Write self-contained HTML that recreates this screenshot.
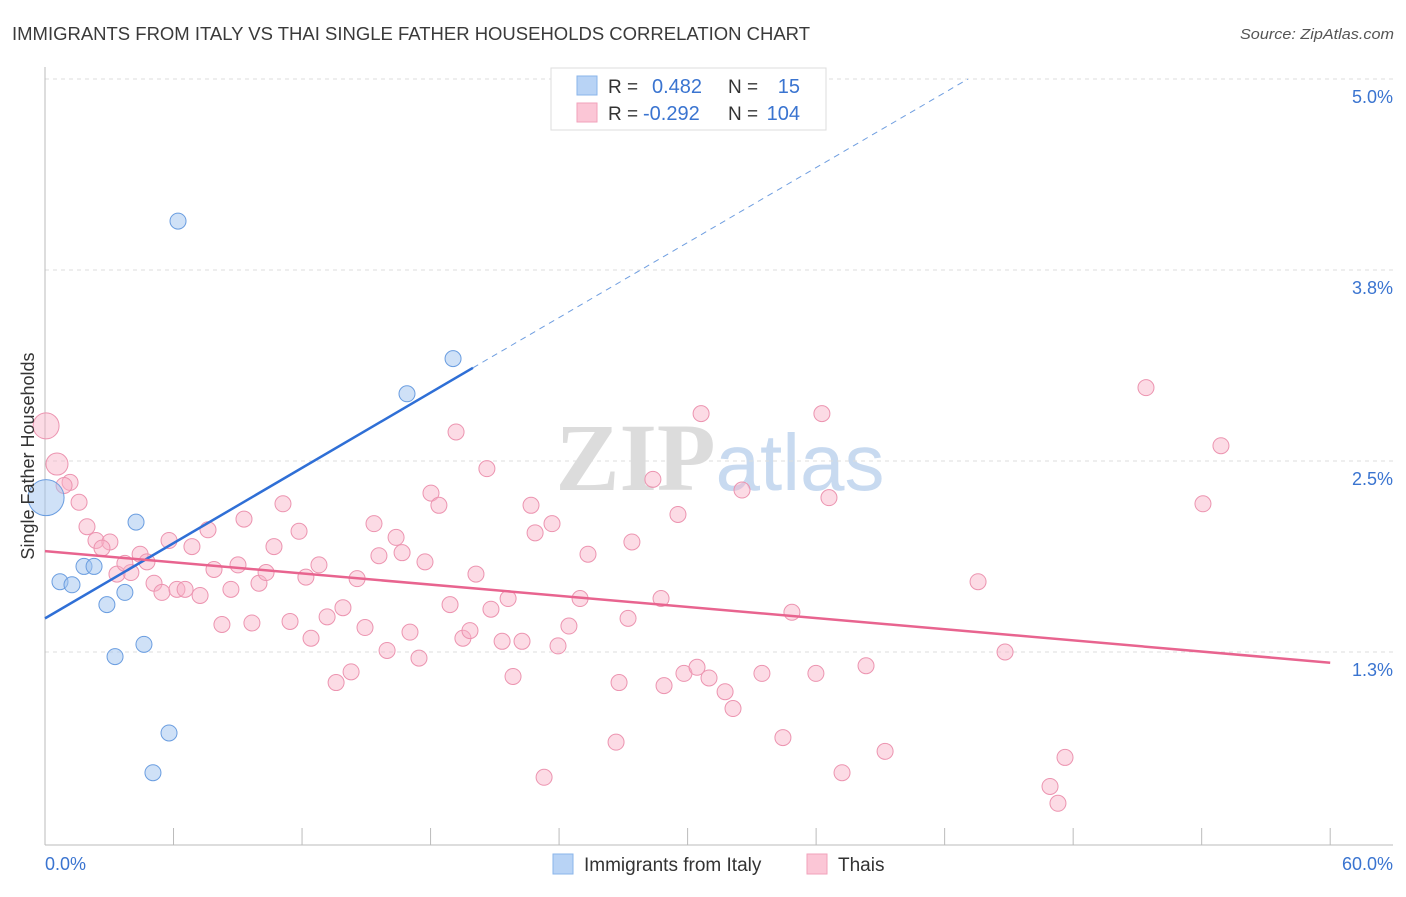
<!DOCTYPE html>
<html><head><meta charset="utf-8">
<style>
body{margin:0;background:#fff;font-family:"Liberation Sans",sans-serif;}
svg text{font-family:"Liberation Sans",sans-serif;}
</style></head>
<body>
<svg id="chart" width="1406" height="892" xmlns="http://www.w3.org/2000/svg">
<text x="12" y="40" font-size="18" fill="#3a3a3a" textLength="798" lengthAdjust="spacingAndGlyphs">IMMIGRANTS FROM ITALY VS THAI SINGLE FATHER HOUSEHOLDS CORRELATION CHART</text>
<text x="1394" y="39" font-size="15" fill="#555" font-style="italic" text-anchor="end" textLength="154" lengthAdjust="spacingAndGlyphs">Source: ZipAtlas.com</text>
<text x="720" y="490" font-size="96" text-anchor="middle"><tspan fill="#dcdcdc" font-family="Liberation Serif" font-weight="bold">ZIP</tspan><tspan fill="#c8daf0" font-size="80">atlas</tspan></text>
<g id="grid"></g>
<g id="axes"></g>
<g id="marks"></g>
<text transform="translate(34,456) rotate(-90)" font-size="18" fill="#333" text-anchor="middle">Single Father Households</text>
<g>
<rect x="551" y="68" width="275" height="62" fill="#fff" stroke="#ddd"/>
<rect x="577" y="76" width="20" height="19" fill="#b8d3f5" stroke="#8ab4ea"/>
<rect x="577" y="103" width="20" height="19" fill="#fbc6d6" stroke="#f2a2bb"/>
<text x="608" y="93" font-size="19" fill="#333">R =</text>
<text x="652" y="93" font-size="20" fill="#3a74d0">0.482</text>
<text x="728" y="93" font-size="19" fill="#333">N =</text>
<text x="800" y="93" font-size="20" fill="#3a74d0" text-anchor="end">15</text>
<text x="608" y="120" font-size="19" fill="#333">R =</text>
<text x="643" y="120" font-size="20" fill="#3a74d0">-0.292</text>
<text x="728" y="120" font-size="19" fill="#333">N =</text>
<text x="800" y="120" font-size="20" fill="#3a74d0" text-anchor="end">104</text>
</g>
<g>
<rect x="553" y="854" width="20" height="20" fill="#b8d3f5" stroke="#8ab4ea"/>
<text x="584" y="871" font-size="19" fill="#333">Immigrants from Italy</text>
<rect x="807" y="854" width="20" height="20" fill="#fbc6d6" stroke="#f2a2bb"/>
<text x="838" y="871" font-size="19" fill="#333">Thais</text>
</g>
</svg>
<script>
const yTicks=[5.0,3.75,2.5,1.25];
const yTickLabels=["5.0%","3.8%","2.5%","1.3%"];
const xTicks=[0,6,12,18,24,30,36,42,48,54,60];
const xEndLabels=["0.0%","60.0%"];
const italyX=[6.21,19.05,16.90,0.05,4.25,0.70,1.26,1.82,2.29,2.89,3.73,4.62,3.27,5.79,5.04];
const italyY=[4.07,3.17,2.94,2.26,2.10,1.71,1.69,1.81,1.81,1.56,1.64,1.30,1.22,0.72,0.46];
const italyR=[8,8,8,18,8,8,8,8,8,8,8,8,8,8,8];
const thaiX=[0.05,0.56,1.17,0.89,1.59,1.96,2.38,3.03,2.66,4.01,3.36,3.73,4.44,4.76,5.09,5.46,5.79,6.16,6.54,6.86,7.24,7.61,7.89,8.26,8.68,9.01,9.29,9.66,9.99,10.32,10.69,11.11,11.44,11.86,12.18,12.42,12.79,13.17,13.59,13.91,14.29,14.57,14.94,15.36,15.59,15.97,16.39,16.67,17.04,17.46,17.74,18.02,18.39,18.91,19.19,19.51,19.84,20.12,20.63,20.82,21.34,21.62,21.85,22.27,22.69,22.88,23.30,23.67,23.95,24.46,24.98,25.35,26.66,26.80,27.22,27.40,28.38,28.76,28.90,29.55,29.83,30.44,30.63,31.00,31.75,32.12,32.54,33.47,34.45,34.87,35.99,36.27,36.60,37.21,38.33,39.22,43.56,44.82,46.92,47.29,47.62,51.40,54.06,54.90];
const thaiY=[2.73,2.48,2.36,2.34,2.23,2.07,1.98,1.97,1.93,1.77,1.76,1.83,1.89,1.84,1.70,1.64,1.98,1.66,1.66,1.94,1.62,2.05,1.79,1.43,1.66,1.82,2.12,1.44,1.70,1.77,1.94,2.22,1.45,2.04,1.74,1.34,1.82,1.48,1.05,1.54,1.12,1.73,1.41,2.09,1.88,1.26,2.00,1.90,1.38,1.21,1.84,2.29,2.21,1.56,2.69,1.34,1.39,1.76,2.45,1.53,1.32,1.60,1.09,1.32,2.21,2.03,0.43,2.09,1.29,1.42,1.60,1.89,0.66,1.05,1.47,1.97,2.38,1.60,1.03,2.15,1.11,1.15,2.81,1.08,0.99,0.88,2.31,1.11,0.69,1.51,1.11,2.81,2.26,0.46,1.16,0.60,1.71,1.25,0.37,0.26,0.56,2.98,2.22,2.60];
const thaiBig=[13,11];
const italyTrend=[[0,1.47],[19.98,3.11]];
const italyTrendExt=[[19.98,3.11],[43.09,5.0]];
const thaiTrend=[[0,1.91],[60,1.18]];

const NS="http://www.w3.org/2000/svg";
const X=v=>45+v*21.42;
const Y=v=>843-v*152.8;
function mk(tag,attrs,parent){const e=document.createElementNS(NS,tag);for(const k in attrs)e.setAttribute(k,attrs[k]);parent.appendChild(e);return e;}
const grid=document.getElementById('grid'),axes=document.getElementById('axes'),marks=document.getElementById('marks');
yTicks.forEach((t,i)=>{
 const l=mk('line',{x1:45,x2:1393,y1:Y(t),y2:Y(t),stroke:'#ddd','stroke-dasharray':'4,4'},grid);
 
 
 const tx=mk('text',{x:1393,y:Y(t)+24,'font-size':18,fill:'#3a74d0','text-anchor':'end'},axes);
 tx.textContent=yTickLabels[i];
 
 
});
const ax=mk('line',{x1:45,x2:1393,y1:845,y2:845,stroke:'#bbb'},axes);


const ay=mk('line',{x1:45,x2:45,y1:67,y2:845,stroke:'#bbb'},axes);


xTicks.forEach(t=>{
 const l=mk('line',{x1:X(t),x2:X(t),y1:828,y2:845,stroke:'#bbb'},axes);
 
 
});
const xl0=mk('text',{x:45,y:870,'font-size':18,fill:'#3a74d0'},axes);xl0.textContent=xEndLabels[0];


const xl1=mk('text',{x:1393,y:870,'font-size':18,fill:'#3a74d0','text-anchor':'end'},axes);xl1.textContent=xEndLabels[1];



thaiX.forEach((x,i)=>{
 const c=mk('circle',{cx:X(x),cy:Y(thaiY[i]),r:i<thaiBig.length?thaiBig[i]:8,fill:'rgba(248,175,198,0.45)',stroke:'#ec94b0','stroke-width':1},marks);
 
 
});
italyX.forEach((x,i)=>{
 const c=mk('circle',{cx:X(x),cy:Y(italyY[i]),r:italyR[i],fill:'rgba(160,196,240,0.5)',stroke:'#6a9de0','stroke-width':1},marks);
 
 
});
const t1=mk('line',{x1:X(italyTrend[0][0]),y1:Y(italyTrend[0][1]),x2:X(italyTrend[1][0]),y2:Y(italyTrend[1][1]),stroke:'#2f6fd6','stroke-width':2.5},marks);


const t2=mk('line',{x1:X(italyTrendExt[0][0]),y1:Y(italyTrendExt[0][1]),x2:X(italyTrendExt[1][0]),y2:Y(italyTrendExt[1][1]),stroke:'#6f9ee0','stroke-width':1,'stroke-dasharray':'6,5'},marks);


const t3=mk('line',{x1:X(thaiTrend[0][0]),y1:Y(thaiTrend[0][1]),x2:X(thaiTrend[1][0]),y2:Y(thaiTrend[1][1]),stroke:'#e8648f','stroke-width':2.5},marks);


</script>
</body></html>
